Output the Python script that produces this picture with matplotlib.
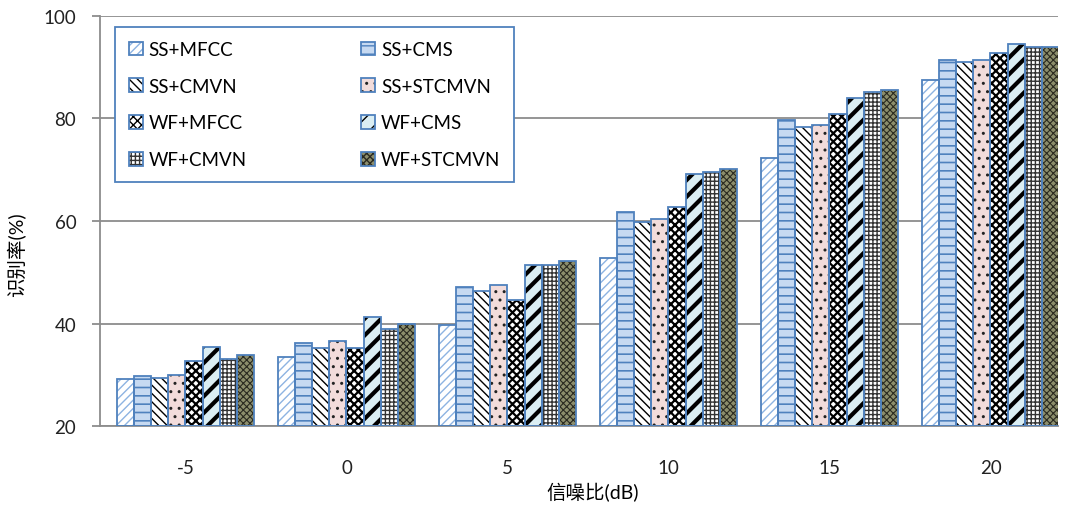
import matplotlib
matplotlib.use("Agg")
import matplotlib.pyplot as plt
import numpy as np
from matplotlib.patches import Patch
from matplotlib.legend_handler import HandlerTuple

snr_labels = ["-5", "0", "5", "10", "15", "20"]
series_names = ["SS+MFCC", "SS+CMS", "SS+CMVN", "SS+STCMVN",
                "WF+MFCC", "WF+CMS", "WF+CMVN", "WF+STCMVN"]

ss_mfcc = [29.2, 33.5, 39.8, 52.7, 72.2, 87.6]
ss_cms = [29.8, 36.2, 47.2, 61.7, 79.7, 91.4]
ss_cmvn = [29.4, 35.3, 46.3, 59.9, 78.4, 91.1]
ss_stcmvn = [29.9, 36.6, 47.6, 60.4, 78.8, 91.4]
wf_mfcc = [32.7, 35.3, 44.6, 62.8, 80.9, 92.7]
wf_cms = [35.4, 41.3, 51.5, 69.2, 84.0, 94.5]
wf_cmvn = [33.0, 38.9, 51.5, 69.5, 85.1, 94.0]
wf_stcmvn = [33.8, 39.9, 52.1, 70.1, 85.6, 94.0]

series = [ss_mfcc, ss_cms, ss_cmvn, ss_stcmvn, wf_mfcc, wf_cms, wf_cmvn, wf_stcmvn]

# (face colour, hatch, hatch colour, hatch line width)
styles = [
    ("white", "////", "#8DB3E2", 1.0),
    ("#C6D9F1", "--", "#4F81BD", 1.2),
    ("white", "\\\\\\\\", "black", 1.0),
    ("#F2DCDB", "..", "#222222", 1.0),
    ("white", "xxxx", "black", 1.6),
    ("#DBEEF3", "//", "black", 3.0),
    ("white", "++++", "#333333", 1.0),
    ("#8C8E6C", "xxxxx", "#2a2a20", 0.8),
]
edge_blue = "#4F81BD"
axis_grey = "#8c8c8c"

plt.rcParams['font.family'] = ['Lato', 'Noto Sans CJK SC', 'DejaVu Sans']

fig = plt.figure(figsize=(10.68, 5.10), dpi=100)
ax = fig.add_axes([0.0936, 0.1627, 0.897, 0.804])

x = np.arange(len(snr_labels))
width = 0.1064
n = len(series)

handles = []
for i, (vals, (fc, hatch, hc, hlw)) in enumerate(zip(series, styles)):
    pos = x + (i - (n - 1) / 2) * width
    bottoms = [20] * len(vals)
    heights = [v - 20 for v in vals]
    with plt.rc_context({'hatch.linewidth': hlw}):
        inner = ax.bar(pos, heights, width, bottom=bottoms, color=fc,
                       edgecolor=hc, linewidth=0, hatch=hatch, zorder=2)
        for p in inner:
            if hasattr(p, "set_hatch_linewidth"):
                p.set_hatch_linewidth(hlw)
        h_fill = Patch(facecolor=fc, edgecolor=hc, linewidth=0, hatch=hatch)
        if hasattr(h_fill, "set_hatch_linewidth"):
            h_fill.set_hatch_linewidth(hlw)
    ax.bar(pos, heights, width, bottom=bottoms, fill=False,
           edgecolor=edge_blue, linewidth=1.3, zorder=3)
    h_edge = Patch(facecolor="none", edgecolor=edge_blue, linewidth=1.3)
    handles.append((h_fill, h_edge))

ax.set_xlim(-0.531, 5.419)
ax.set_ylim(20, 100)
ax.set_yticks([20, 40, 60, 80, 100])
ax.set_xticks(x)
ax.set_xticklabels(snr_labels)
ax.tick_params(axis='both', labelsize=13.5, colors="#222222")
ax.tick_params(axis='x', length=0, pad=24)
ax.tick_params(axis='y', length=6, color=axis_grey, width=1.3, pad=11)

ax.yaxis.grid(True, color=axis_grey, linewidth=1.3, zorder=0)
ax.set_axisbelow(True)
for side in ["top", "right"]:
    ax.spines[side].set_visible(False)
for side in ["left", "bottom"]:
    ax.spines[side].set_color(axis_grey)
    ax.spines[side].set_linewidth(1.3)

ax.set_ylabel("识别率(%)", fontsize=14)
ax.yaxis.set_label_coords(-0.077, 0.42)
ax.set_xlabel("信噪比(dB)", fontsize=14)
ax.xaxis.set_label_coords(0.514, -0.137)

# two-column legend filled row by row
order = [0, 2, 4, 6, 1, 3, 5, 7]
leg = ax.legend([handles[k] for k in order], [series_names[k] for k in order],
                handler_map={tuple: HandlerTuple(ndivide=1)},
                ncol=2, loc="upper left", bbox_to_anchor=(0.0157, 0.973),
                borderaxespad=0, fontsize=13.5, handlelength=0.75,
                handleheight=0.75, handletextpad=0.3, columnspacing=6.1,
                labelspacing=1.05, borderpad=0.75, fancybox=False,
                framealpha=1)
leg.get_frame().set_edgecolor(edge_blue)
leg.get_frame().set_linewidth(1.3)

fig.savefig("out.png", dpi=100)
